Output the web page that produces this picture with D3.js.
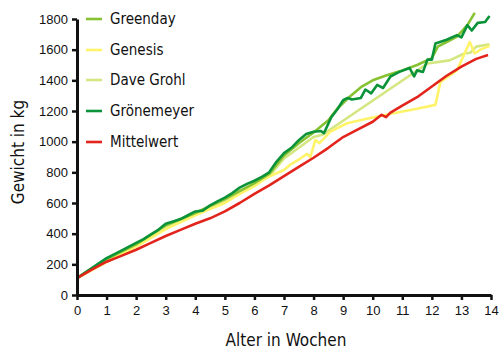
<!DOCTYPE html>
<html>
<head>
<meta charset="utf-8">
<script src="https://cdn.jsdelivr.net/npm/d3@7"></script>
<style>
body{margin:0;background:#fff;}
svg{display:block;font-family:"DejaVu Sans Condensed","DejaVu Sans",sans-serif;font-stretch:condensed;}
</style>
</head>
<body>
<svg id="chart" width="500" height="356"></svg>
<script>
const seriesNames = ["Greenday","Genesis","Dave Grohl","Grönemeyer","Mittelwert"];
const seriesColors = ["#86c232","#fff36a","#d3e680","#0a9338","#e2241c"];

const greendayWeeks = [0,1,2,3,4,5,6,6.5,7,7.5,8,8.5,8.8,9.2,9.6,10,10.5,11,11.5,12,12.2,12.5,12.85,13.2,13.45];
const greendayKg    = [110,235,330,455,535,625,730,790,910,990,1060,1140,1215,1290,1355,1400,1435,1465,1500,1545,1620,1650,1685,1760,1840];

const genesisWeeks = [0,1,2,3,4,4.5,5,5.5,6,6.4,7,7.2,7.55,7.78,7.89,8.06,8.2,8.57,9.13,9.8,10.7,11.5,12.12,12.29,12.85,13.28,13.45,13.64,13.95];
const genesisKg    = [110,215,315,430,520,560,600,660,710,765,815,848,890,920,900,1010,990,1065,1120,1150,1185,1215,1240,1390,1465,1650,1575,1600,1625];

const grohlWeeks = [0,1,2,3,4,5,6,6.5,7,7.5,8,8.3,11.85,12.6,13.1,13.3,13.5,13.95];
const grohlKg    = [110,225,325,440,525,610,715,775,890,960,1030,1045,1510,1530,1575,1580,1620,1635];

const groenWeeks = [0,0.5,1,1.5,2,2.25,2.5,2.75,3,3.25,3.5,3.75,4,4.25,4.5,4.75,5,5.25,5.5,5.75,6,6.25,6.5,6.75,7,7.25,7.5,7.75,8,8.25,8.35,8.6,8.8,9,9.15,9.3,9.6,9.75,9.95,10.15,10.35,10.6,10.9,11.25,11.4,11.5,11.7,11.85,12,12.12,12.5,12.85,13,13.2,13.35,13.55,13.8,13.95];
const groenKg    = [110,175,240,290,340,365,395,425,465,480,495,520,545,550,585,610,635,665,700,725,745,770,800,870,925,960,1010,1050,1065,1070,1055,1160,1210,1270,1285,1275,1285,1340,1315,1370,1350,1425,1455,1480,1425,1465,1455,1535,1535,1640,1665,1695,1680,1760,1725,1775,1780,1820];

const meanWeeks = [0,0.5,1,1.5,2,2.5,3,3.5,4,4.5,5,5.5,6,6.5,7,7.5,8,8.5,9,9.5,10,10.3,10.45,10.6,11,11.5,12,12.5,13,13.5,13.9];
const meanKg    = [110,165,217,255,295,340,385,425,465,500,545,600,660,715,775,835,895,960,1030,1080,1130,1175,1160,1190,1235,1290,1360,1430,1490,1540,1565];

const xTicks = [0,1,2,3,4,5,6,7,8,9,10,11,12,13,14];
const yTicks = [0,200,400,600,800,1000,1200,1400,1600,1800];

const seriesData = [
  {name: seriesNames[0], color: seriesColors[0], w: greendayWeeks, v: greendayKg},
  {name: seriesNames[1], color: seriesColors[1], w: genesisWeeks, v: genesisKg},
  {name: seriesNames[2], color: seriesColors[2], w: grohlWeeks, v: grohlKg},
  {name: seriesNames[3], color: seriesColors[3], w: groenWeeks, v: groenKg},
  {name: seriesNames[4], color: seriesColors[4], w: meanWeeks, v: meanKg}
];

const svg = d3.select("#chart");
const x = d3.scaleLinear().domain([0,14]).range([77,491]);
const y = d3.scaleLinear().domain([0,1800]).range([295,19]);

const line = d3.line().x(d => x(d[0])).y(d => y(d[1]));
const drawOrder = [2,1,0,3,4];
drawOrder.forEach(i => {
  const s = seriesData[i];
  svg.append("path")
    .datum(s.w.map((w,j) => [w, s.v[j]]))
    .attr("d", line)
    .attr("fill","none")
    .attr("stroke", s.color)
    .attr("stroke-width", 2.6)
    .attr("stroke-linejoin","round");
});

// axes
const xAxis = svg.append("g").attr("transform","translate(0,295)")
  .call(d3.axisBottom(x).tickValues(xTicks).tickFormat(d3.format("d")).tickSize(5).tickSizeOuter(0).tickPadding(6));
const yAxis = svg.append("g").attr("transform","translate(77,0)")
  .call(d3.axisLeft(y).tickValues(yTicks).tickFormat(d3.format("d")).tickSize(5).tickSizeOuter(0).tickPadding(4));
[xAxis,yAxis].forEach(a => {
  a.select(".domain").attr("stroke","#111").attr("stroke-width",3);
  a.selectAll(".tick line").attr("stroke","#111").attr("stroke-width",2.5);
  a.selectAll(".tick text").attr("fill","#111").style("font-size","13px");
});

// titles
svg.append("text").attr("x",286).attr("y",346).attr("text-anchor","middle")
  .style("font-size","17px").attr("fill","#111").text("Alter in Wochen");
svg.append("text").attr("transform","translate(24,152) rotate(-90)").attr("text-anchor","middle")
  .style("font-size","17px").attr("fill","#111").text("Gewicht in kg");

// legend
const legendY = [19,50,80,111,142];
seriesData.forEach((s,i) => {
  const g = svg.append("g").attr("transform",`translate(0,${legendY[i]})`);
  g.append("line").attr("x1",86).attr("x2",102).attr("y1",0).attr("y2",0)
    .attr("stroke",s.color).attr("stroke-width",2.6);
  g.append("text").attr("x",110).attr("y",5).style("font-size","15px").attr("fill","#111").text(s.name);
});
</script>
</body>
</html>
